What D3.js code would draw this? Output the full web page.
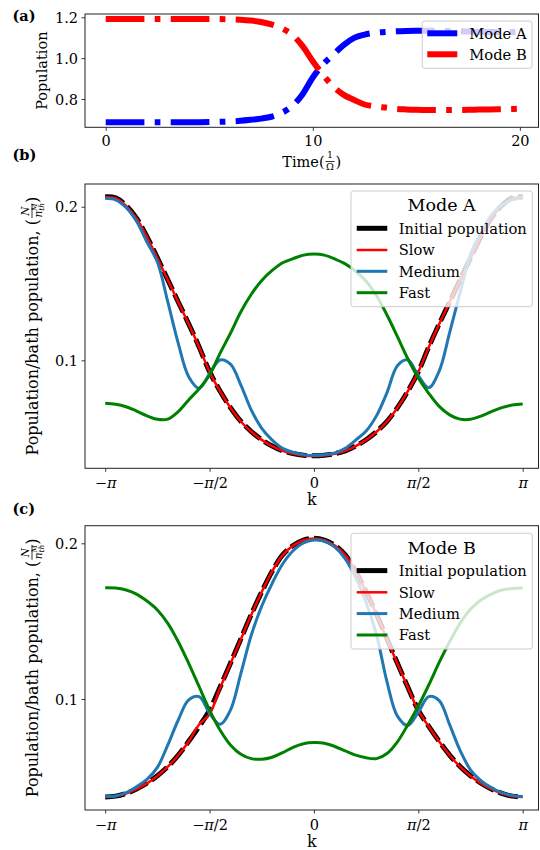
<!DOCTYPE html>
<html><head><meta charset="utf-8">
<script src="https://cdn.jsdelivr.net/npm/d3@7"></script>
<style>body{margin:0;background:#fff} svg{display:block} text{font-family:"DejaVu Serif",serif;fill:#000}</style>
</head><body><svg id="chart" width="540" height="850"></svg>
<script>
// ---------------- data ----------------
const timeT = [0,0.5,1,1.5,2,2.5,3,3.5,4,4.5,5,5.5,6,6.5,7,7.5,8,8.5,9,9.5,10,10.5,11,11.5,12,12.5,13,13.5,14,14.5,15,15.5,16,16.5,17,17.5,18,18.5,19,19.5,20];
const modeA = [0.686,0.686,0.686,0.686,0.686,0.686,0.686,0.686,0.6862,0.6865,0.687,0.688,0.690,0.693,0.698,0.704,0.713,0.732,0.765,0.822,0.905,0.970,1.018,1.065,1.099,1.115,1.124,1.128,1.131,1.133,1.134,1.1345,1.134,1.133,1.132,1.130,1.129,1.128,1.128,1.128,1.128];
const modeB = [1.1917,1.1917,1.1917,1.1917,1.1917,1.1917,1.1917,1.1917,1.1917,1.1917,1.1917,1.191,1.190,1.188,1.184,1.177,1.165,1.146,1.115,1.060,0.985,0.918,0.860,0.820,0.795,0.773,0.764,0.758,0.752,0.749,0.747,0.746,0.746,0.746,0.7465,0.747,0.748,0.749,0.750,0.751,0.752];
const timeTicks = [0,10,20];
const popTicks = [0.8,1.0,1.2];

const kValues = [-3.1416,-2.9845,-2.8274,-2.6704,-2.5133,-2.3562,-2.1991,-2.0420,-1.8850,-1.7279,-1.5708,-1.4137,-1.2566,-1.0996,-0.9425,-0.7854,-0.6283,-0.4712,-0.3142,-0.1571,0,
  0.1571,0.3142,0.4712,0.6283,0.7854,0.9425,1.0996,1.2566,1.4137,1.5708,1.7279,1.8850,2.0420,2.1991,2.3562,2.5133,2.6704,2.8274,2.9845,3.1416];
const kTicks = [-Math.PI,-Math.PI/2,0,Math.PI/2,Math.PI];
const kTickLabels = ["−π","−π/2","0","π/2","π"];
const ratioTicks = [0.1,0.2];

// Mode A (panel b)
const aInitial = [0.2065,0.2058,0.2008,0.1926,0.1805,0.1667,0.1524,0.1380,0.1237,0.1087,0.0926,0.0800,0.0692,0.0603,0.0536,0.0483,0.0442,0.0411,0.0393,0.0382,0.0378,
  0.0382,0.0393,0.0411,0.0442,0.0483,0.0536,0.0603,0.0692,0.0800,0.0926,0.1087,0.1237,0.1380,0.1524,0.1667,0.1805,0.1926,0.2008,0.2058,0.2065];
const aSlow = [0.2062,0.2055,0.2006,0.1923,0.1803,0.1665,0.1523,0.1379,0.1236,0.1085,0.0925,0.0799,0.0691,0.0602,0.0535,0.0482,0.0441,0.0410,0.0392,0.0381,0.0377,
  0.0381,0.0392,0.0410,0.0441,0.0482,0.0535,0.0602,0.0691,0.0799,0.0925,0.1085,0.1236,0.1379,0.1523,0.1665,0.1803,0.1923,0.2006,0.2055,0.2062];
const aMedium = [0.2055,0.2045,0.1995,0.1905,0.1770,0.1640,0.1380,0.1110,0.0893,0.0818,0.0913,0.1002,0.0975,0.0839,0.0676,0.0557,0.0481,0.0427,0.0401,0.0386,0.0380,
  0.0386,0.0397,0.0427,0.0481,0.0540,0.0640,0.0790,0.0965,0.1002,0.0900,0.0822,0.0930,0.1180,0.1440,0.1690,0.1830,0.1945,0.2012,0.2045,0.2055];
const aFast = [0.0720,0.0714,0.0698,0.0670,0.0639,0.0616,0.0617,0.0666,0.0742,0.0815,0.0905,0.1045,0.1176,0.1316,0.1430,0.1520,0.1585,0.1635,0.1662,0.1685,0.1692,
  0.1685,0.1660,0.1628,0.1580,0.1515,0.1420,0.1295,0.1154,0.1010,0.0885,0.0785,0.0700,0.0645,0.0617,0.0616,0.0637,0.0666,0.0692,0.0709,0.0716];

// Mode B (panel c)
const bInitial = [0.0370,0.0376,0.0394,0.0422,0.0459,0.0507,0.0566,0.0640,0.0728,0.0824,0.0928,0.1076,0.1229,0.1386,0.1543,0.1689,0.1821,0.1925,0.1986,0.2021,0.2032,
  0.2021,0.1986,0.1925,0.1821,0.1689,0.1543,0.1386,0.1229,0.1076,0.0928,0.0824,0.0728,0.0640,0.0566,0.0507,0.0459,0.0422,0.0394,0.0376,0.0370];
const bSlow = [0.0370,0.0376,0.0393,0.0421,0.0458,0.0506,0.0565,0.0639,0.0727,0.0836,0.0902,0.1070,0.1226,0.1384,0.1541,0.1688,0.1820,0.1924,0.1985,0.2020,0.2031,
  0.2020,0.1985,0.1924,0.1820,0.1688,0.1541,0.1384,0.1226,0.1074,0.0926,0.0823,0.0727,0.0639,0.0565,0.0506,0.0458,0.0421,0.0393,0.0376,0.0370];
const bMedium = [0.0373,0.0377,0.0398,0.0437,0.0484,0.0561,0.0705,0.0865,0.0994,0.1015,0.0908,0.0837,0.0929,0.1165,0.1411,0.1597,0.1743,0.1867,0.1952,0.2003,0.2021,
  0.2014,0.1975,0.1900,0.1780,0.1620,0.1411,0.1110,0.0890,0.0830,0.0915,0.1015,0.0990,0.0835,0.0670,0.0545,0.0475,0.0430,0.0399,0.0381,0.0373];
const bFast = [0.1715,0.1713,0.1700,0.1674,0.1629,0.1572,0.1486,0.1368,0.1229,0.1079,0.0929,0.0801,0.0705,0.0645,0.0617,0.0613,0.0626,0.0655,0.0690,0.0713,0.0720,
  0.0716,0.0695,0.0667,0.0639,0.0622,0.0617,0.0650,0.0725,0.0835,0.0955,0.1090,0.1235,0.1368,0.1486,0.1576,0.1636,0.1674,0.1700,0.1710,0.1715];

const seriesNames = ["Initial population","Slow","Medium","Fast"];
const seriesColors = ["#000000","#ff0000","#1f77b4","#008000"];
const seriesWidths = [5,2.5,3,3];

// ---------------- drawing ----------------
const svg = d3.select("#chart");
const TICK_FS = 14.5;

function piLabel(sel, label){
  sel.text(null);
  const parts = label.split("π");
  parts.forEach((p,i)=>{
    if(p) sel.append("tspan").text(p);
    if(i<parts.length-1) sel.append("tspan").style("font-style","italic").text("π");
  });
}

function frame(x0,y0,x1,y1){
  svg.append("rect").attr("x",x0).attr("y",y0).attr("width",x1-x0).attr("height",y1-y0)
    .attr("fill","none").attr("stroke","#222").attr("stroke-width",1);
}

function xAxis(x, yPos, ticks, fmt, labelBaseline){
  const g = svg.append("g").attr("transform",`translate(0,${yPos})`)
    .call(d3.axisBottom(x).tickValues(ticks).tickSize(3.5).tickSizeOuter(0).tickPadding(0).tickFormat(fmt));
  g.select(".domain").remove();
  g.selectAll(".tick line").attr("stroke","#222").attr("stroke-width",0.9);
  g.selectAll(".tick text").attr("y",null).attr("dy",null)
    .attr("transform",`translate(0,${labelBaseline-yPos})`)
    .style("font-family",'"DejaVu Serif",serif').style("font-size",TICK_FS+"px").attr("fill","#000");
  return g;
}
function yAxis(y, xPos, ticks, fmt){
  const g = svg.append("g").attr("transform",`translate(${xPos},0)`)
    .call(d3.axisLeft(y).tickValues(ticks).tickSize(3.5).tickSizeOuter(0).tickPadding(3.5).tickFormat(fmt));
  g.select(".domain").remove();
  g.selectAll(".tick line").attr("stroke","#222").attr("stroke-width",0.9);
  g.selectAll(".tick text").attr("dy","0.36em")
    .style("font-family",'"DejaVu Serif",serif').style("font-size",TICK_FS+"px").attr("fill","#000");
  return g;
}

function label(txt,x,y,opts={}){
  const t = svg.append("text").attr("x",x).attr("y",y).text(txt)
    .style("font-size",(opts.size||14.5)+"px");
  if(opts.bold) t.style("font-weight","bold");
  if(opts.anchor) t.attr("text-anchor",opts.anchor);
  return t;
}

// panel letters
label("(a)",12.5,20.5,{bold:true,size:14.5});
label("(b)",12.5,159.5,{bold:true,size:14.5});
label("(c)",12.5,514,{bold:true,size:14.5});

// ---------- Panel (a) ----------
const ax = {l:85,r:538.5,t:14,b:127.3};
const xa = d3.scaleLinear().domain([-1,20.9]).range([ax.l,ax.r]);
const ya = d3.scaleLinear().domain([0.6614,1.216]).range([ax.b,ax.t]);
const DASHDOT = "38.7,10.3,5.7,10.3";
const lineA = d3.line().x((d,i)=>xa(timeT[i])).y(d=>ya(d)).curve(d3.curveMonotoneX);
svg.append("clipPath").attr("id","clipA").append("rect")
  .attr("x",ax.l).attr("y",ax.t).attr("width",ax.r-ax.l).attr("height",ax.b-ax.t);
const ga = svg.append("g").attr("clip-path","url(#clipA)");
ga.append("path").attr("d",lineA(modeA)).attr("fill","none").attr("stroke","#0000ff")
  .attr("stroke-width",6).attr("stroke-dasharray",DASHDOT);
ga.append("path").attr("d",lineA(modeB)).attr("fill","none").attr("stroke","#ff0000")
  .attr("stroke-width",6).attr("stroke-dasharray",DASHDOT);
frame(ax.l,ax.t,ax.r,ax.b);
xAxis(xa, ax.b, timeTicks, d3.format("d"), 145.5);
yAxis(ya, ax.l, popTicks, d3.format(".1f"));
// y label
svg.append("text").attr("transform",`translate(47,${(ax.t+ax.b)/2}) rotate(-90)`)
  .attr("text-anchor","middle").style("font-size","14.5px").text("Population");
// x label Time(1/Ω)
(function(){
  const g = svg.append("g");
  const fs = 14.5, base = 166.7;
  const t1 = g.append("text").attr("y",base).style("font-size",fs+"px").text("Time(");
  const w1 = t1.node().getComputedTextLength();
  const num = g.append("text").attr("y",base-9).style("font-size","9.5px").attr("text-anchor","middle").text("1");
  const den = g.append("text").attr("y",base+3.5).style("font-size","9.5px").attr("text-anchor","middle").text("Ω");
  const wf = 9;
  const t2 = g.append("text").attr("y",base).style("font-size",fs+"px").text(")");
  const w2 = t2.node().getComputedTextLength();
  const total = w1+wf+2+w2;
  const x0 = (ax.l+ax.r)/2 - total/2;
  t1.attr("x",x0);
  num.attr("x",x0+w1+1+wf/2); den.attr("x",x0+w1+1+wf/2);
  g.append("line").attr("x1",x0+w1+1).attr("x2",x0+w1+1+wf).attr("y1",base-5.2).attr("y2",base-5.2)
    .attr("stroke","#000").attr("stroke-width",0.8);
  t2.attr("x",x0+w1+wf+2);
})();
// legend (a)
(function(){
  const bx=422.3, by=21, bw=109.7, bh=47.3;
  svg.append("rect").attr("x",bx).attr("y",by).attr("width",bw).attr("height",bh).attr("rx",2.5)
    .attr("fill","#fff").attr("fill-opacity",0.8).attr("stroke","#cccccc").attr("stroke-width",1);
  const rows=[["Mode A","#0000ff",33.3],["Mode B","#ff0000",54.3]];
  rows.forEach(r=>{
    svg.append("line").attr("x1",bx+5).attr("x2",bx+35).attr("y1",r[2]).attr("y2",r[2])
      .attr("stroke",r[1]).attr("stroke-width",6).attr("stroke-dasharray",DASHDOT);
    svg.append("text").attr("x",469.3).attr("y",r[2]+5.3).style("font-size","14.7px").text(r[0]);
  });
})();

// ---------- Panels (b) & (c) ----------
function kPanel(cfg){
  const x = d3.scaleLinear().domain([-3.4456,3.3796]).range([85,538.5]);
  const y = d3.scaleLinear().domain(cfg.ydom).range([cfg.b,cfg.t]);
  const id = "clip"+cfg.name;
  svg.append("clipPath").attr("id",id).append("rect").attr("x",85).attr("y",cfg.t)
    .attr("width",453.5).attr("height",cfg.b-cfg.t);
  const g = svg.append("g").attr("clip-path",`url(#${id})`);
  const line = d3.line().x((d,i)=>x(kValues[i])).y(d=>y(d)).curve(d3.curveCatmullRom.alpha(0.5));
  cfg.series.forEach((s,j)=>{
    const p = g.append("path").attr("d",line(s)).attr("fill","none")
      .attr("stroke",seriesColors[j]).attr("stroke-width",seriesWidths[j]);
    if(j===0) p.attr("stroke-dasharray","20,5");
  });
  frame(85,cfg.t,538.5,cfg.b);
  const xg = xAxis(x, cfg.b, kTicks, (d,i)=>kTickLabels[i], cfg.b+20);
  xg.selectAll(".tick text").each(function(d,i){ piLabel(d3.select(this), kTickLabels[i]); });
  yAxis(y, 85, ratioTicks, d3.format(".1f"));
  label("k",(85+538.5)/2,cfg.b+37,{anchor:"middle",size:16});
  // y label with fraction
  const cy = (cfg.t+cfg.b)/2;
  const yl = svg.append("g").attr("transform",`translate(37.5,${cy}) rotate(-90)`);
  const fs=16;
  const t1 = yl.append("text").style("font-size",fs+"px").text("Population/bath population, (");
  const w1 = t1.node().getComputedTextLength();
  const fx = w1+1;
  const num = yl.append("text").attr("y",-8.5).style("font-size","10.5px").style("font-style","italic").attr("text-anchor","middle").text("N");
  const den = yl.append("text").attr("y",4).style("font-size","10.5px");
  den.append("tspan").style("font-style","italic").text("n");
  den.append("tspan").style("font-size","7.5px").style("font-style","italic").attr("dy",2.5).text("th");
  const wf = 14;
  const sup = yl.append("text").attr("y",-0.5).style("font-size","7.5px").style("font-style","italic").text("M");
  const t2 = yl.append("text").style("font-size",fs+"px").text(")");
  const total = w1+wf+2+t2.node().getComputedTextLength();
  const x0 = -total/2;
  t1.attr("x",x0);
  num.attr("x",x0+fx+wf/2);
  den.attr("x",x0+fx+0.5);
  sup.attr("x",x0+fx+7.2);
  yl.append("line").attr("x1",x0+fx).attr("x2",x0+fx+wf).attr("y1",-5.5).attr("y2",-5.5)
    .attr("stroke","#000").attr("stroke-width",0.8);
  t2.attr("x",x0+fx+wf+1);
  // legend
  const bx=351, by=cfg.legTop, bw=181.3, bh=115.7;
  svg.append("rect").attr("x",bx).attr("y",by).attr("width",bw).attr("height",bh).attr("rx",2.5)
    .attr("fill","#fff").attr("fill-opacity",0.8).attr("stroke","#cccccc").attr("stroke-width",1);
  svg.append("text").attr("x",bx+bw/2).attr("y",by+14+6.3).attr("text-anchor","middle")
    .style("font-size","17.5px").text(cfg.title);
  const offs=[37.3,59,80.3,101.7];
  seriesNames.forEach((n,j)=>{
    const yy = by+offs[j];
    svg.append("line").attr("x1",bx+5.7).attr("x2",bx+36.3).attr("y1",yy).attr("y2",yy)
      .attr("stroke",seriesColors[j]).attr("stroke-width",seriesWidths[j]);
    svg.append("text").attr("x",bx+47.7).attr("y",yy+5.3).style("font-size","14.7px").text(n);
  });
}

kPanel({name:"b",t:184,b:468.3,ydom:[0.0297,0.2148],series:[aInitial,aSlow,aMedium,aFast],legTop:191,title:"Mode A"});
kPanel({name:"c",t:525.7,b:810,ydom:[0.0287,0.2113],series:[bInitial,bSlow,bMedium,bFast],legTop:533.3,title:"Mode B"});
</script></body></html>
